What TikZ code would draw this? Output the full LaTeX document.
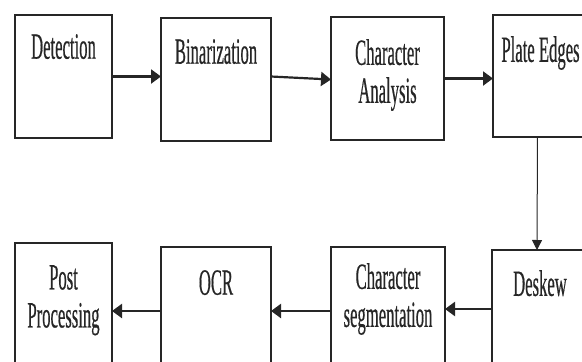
\documentclass[tikz,border=0pt]{standalone}
\usepackage{fontspec}
\setmainfont{Liberation Serif}[FakeStretch=0.45,FakeBold=0.4]
\usetikzlibrary{arrows.meta}
\begin{document}
\begin{tikzpicture}[x=1pt,y=-1pt,
  blk/.style={draw=black!85, line width=1.9pt, rectangle, inner sep=0pt, outer sep=0pt},
  lbl/.style={anchor=north, inner sep=0pt, align=center, font=\fontsize{37}{38}\selectfont, text=black!85},
  arr/.style={line width=2.2pt, draw=black!85, -{Triangle[length=10pt,width=14pt]}},
  thin/.style={line width=1pt, draw=black!85, -{Triangle[length=10pt,width=10pt]}}]
\useasboundingbox (0,0) rectangle (582,362);
\begin{scope}
\clip (0,0) rectangle (582,362);
% top row
\node[blk, minimum width=97pt, minimum height=123pt] (det) at (63.5,76.5) {};
\node[lbl] (detl) at ([yshift=-19pt]det.north) {Detection};
\node[blk, minimum width=110pt, minimum height=123pt] (bin) at (216,79.5) {};
\node[lbl] (binl) at ([yshift=-21pt]bin.north) {Binarization};
\node[blk, minimum width=113pt, minimum height=123pt] (cha) at (387.5,78.5) {};
\node[lbl] (chal) at ([yshift=-22pt]cha.north) {Character\\Analysis};
\node[blk, minimum width=95pt, minimum height=122pt] (pla) at (540.5,76) {};
\node[lbl] (plal) at ([yshift=-21pt]pla.north) {Plate Edges};
% bottom row
\node[blk, minimum width=96pt, minimum height=122pt] (des) at (540,311) {};
\node[lbl] (desl) at ([yshift=-20pt]des.north) {Deskew};
\node[blk, minimum width=114pt, minimum height=123pt] (seg) at (388,308.5) {};
\node[lbl] (segl) at ([yshift=-16pt]seg.north) {Character\\segmentation};
\node[blk, minimum width=110pt, minimum height=123pt] (ocr) at (216,308.5) {};
\node[lbl] (ocrl) at ([yshift=-23pt]ocr.north) {OCR};
\node[blk, minimum width=97pt, minimum height=123pt] (pos) at (63.5,304.5) {};
\node[lbl] (posl) at ([yshift=-22pt]pos.north) {Post\\Processing};
% connectors
\draw[arr] (det.east) -- (det.east -| bin.west);
\draw[arr] ([yshift=3pt]bin.east) -- (bin.east -| cha.west);
\draw[arr] (cha.east) -- (cha.east -| pla.west);
\draw[thin] ([xshift=-3pt]pla.south) -- ([xshift=-3pt]des.north);
\draw[arr] ([yshift=2pt]des.west) -- ([yshift=2pt]des.west -| seg.east);
\draw[arr] (seg.west |- des.west) -- (ocr.east |- des.west);
\draw[arr] (ocr.west |- des.west) -- (pos.east |- des.west);
\end{scope}
\end{tikzpicture}
\end{document}
